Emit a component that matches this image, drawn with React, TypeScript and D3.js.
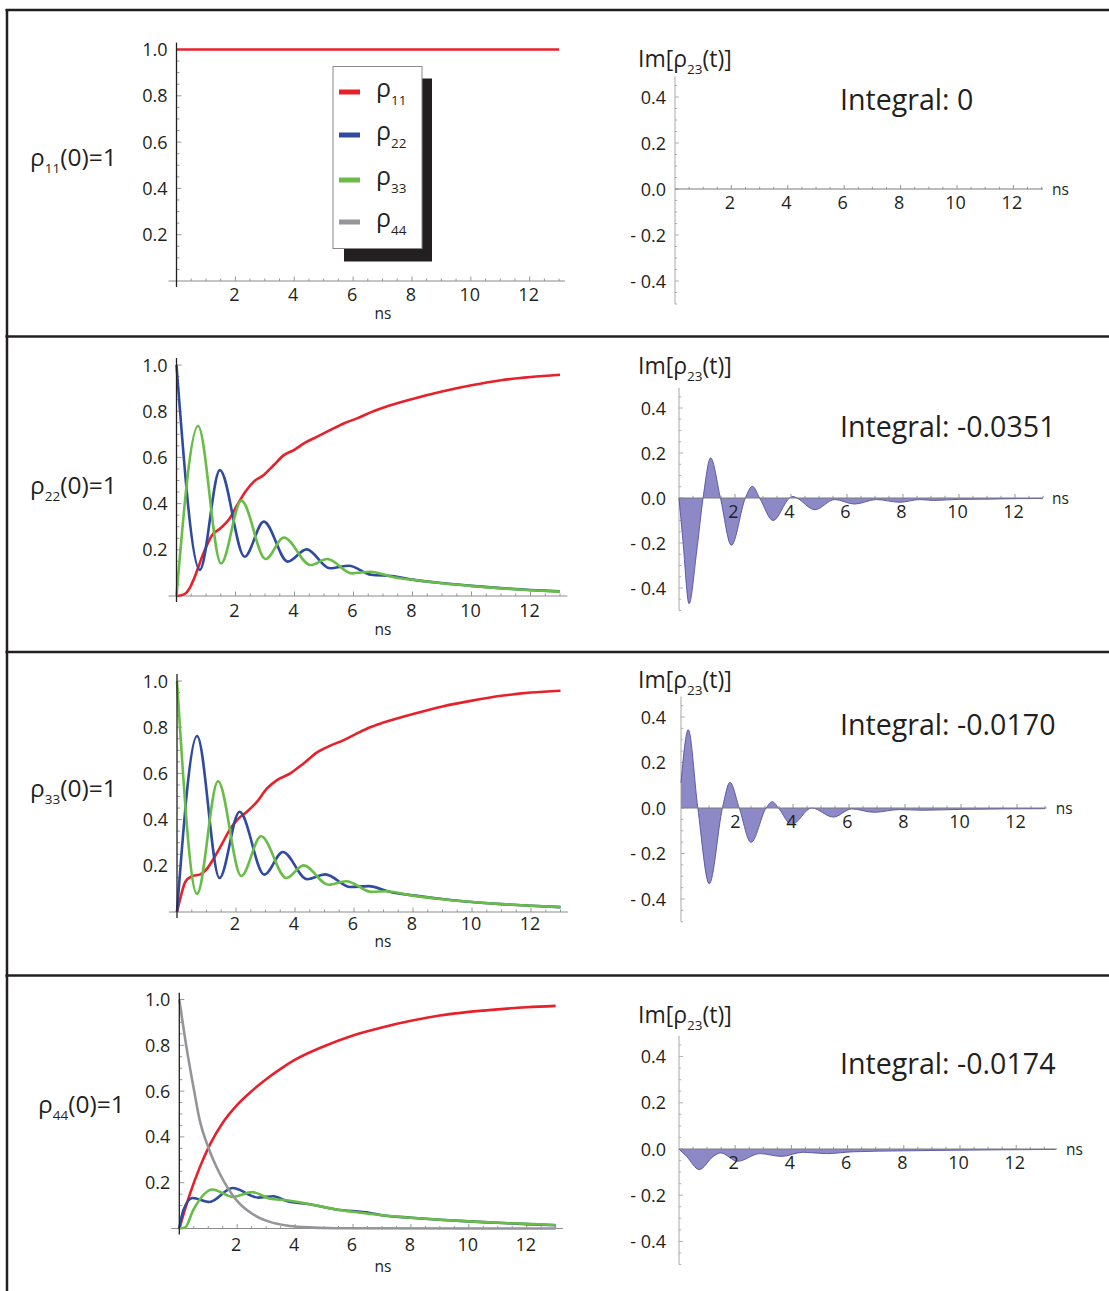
import React from 'react';
import * as d3 from 'd3';

type Pt = [number, number];

// ---------- populations, ρ11(0)=1 ----------
const row1Rho11: Pt[] = [[0, 1], [13, 1]];
const row1Im: Pt[] = [];

// ---------- populations, ρ22(0)=1 ----------
const row2Rho11: Pt[] = [
  [0, 0], [0.25, 0.007], [0.47, 0.04], [0.59, 0.074], [0.93, 0.19], [1.21, 0.264], [1.49, 0.293],
  [1.77, 0.33], [2.06, 0.394], [2.34, 0.452], [2.62, 0.495], [2.96, 0.524], [3.3, 0.567],
  [3.64, 0.61], [3.98, 0.632], [4.32, 0.661], [4.77, 0.69], [5.22, 0.719], [5.67, 0.747],
  [6.12, 0.769], [6.58, 0.795], [7, 0.815], [8, 0.853], [9, 0.885], [10, 0.912], [11, 0.934],
  [12, 0.948], [13, 0.958],
];
const row2Rho22: Pt[] = [
  [0, 1], [0.79, 0.113], [1.47, 0.545], [2.31, 0.17], [2.96, 0.322], [3.77, 0.149], [4.41, 0.202],
  [5.2, 0.12], [5.84, 0.131], [6.6, 0.092], [7.3, 0.086], [8, 0.071], [9, 0.056], [10, 0.044],
  [11, 0.034], [12, 0.026], [13, 0.02],
];
const row2Rho33: Pt[] = [
  [0, 0], [0.73, 0.736], [1.51, 0.141], [2.2, 0.413], [3.02, 0.16], [3.64, 0.253], [4.54, 0.134],
  [5.11, 0.16], [5.95, 0.098], [6.55, 0.105], [7.4, 0.08], [8, 0.07], [9, 0.055], [10, 0.043],
  [11, 0.033], [12, 0.025], [13, 0.019],
];
const row2Im: Pt[] = [
  [0, 0], [0.14, -0.19], [0.36, -0.47], [0.62, -0.25], [0.86, 0], [1.13, 0.178], [1.48, 0],
  [1.87, -0.21], [2.37, 0], [2.62, 0.052], [2.88, 0], [3.36, -0.1], [3.95, 0], [4.07, 0.007],
  [4.21, 0], [4.85, -0.052], [5.56, -0.007], [6.27, -0.027], [7.05, -0.007], [7.88, -0.019],
  [8.6, -0.007], [9.1, -0.011], [10, -0.006], [11, -0.005], [12, -0.003], [13, -0.002],
];

// ---------- populations, ρ33(0)=1 ----------
const row3Rho11: Pt[] = [
  [0, 0], [0.11, 0.058], [0.28, 0.13], [0.51, 0.155], [0.79, 0.163], [1.02, 0.188], [1.24, 0.231],
  [1.53, 0.296], [1.81, 0.361], [2.09, 0.405], [2.37, 0.434], [2.71, 0.477], [3.05, 0.535],
  [3.39, 0.571], [3.84, 0.6], [4.29, 0.643], [4.75, 0.691], [5.2, 0.72], [5.65, 0.744],
  [6.1, 0.773], [6.55, 0.8], [7, 0.82], [8, 0.857], [9, 0.89], [10, 0.915], [11, 0.936],
  [12, 0.95], [13, 0.958],
];
const row3Rho22: Pt[] = [
  [0, 0], [0.68, 0.762], [1.44, 0.147], [2.12, 0.434], [2.96, 0.162], [3.59, 0.26], [4.41, 0.142],
  [5.03, 0.163], [5.88, 0.108], [6.5, 0.112], [7.2, 0.088], [8, 0.072], [9, 0.056], [10, 0.043],
  [11, 0.034], [12, 0.027], [13, 0.021],
];
const row3Rho33: Pt[] = [
  [0, 1], [0.68, 0.079], [1.39, 0.566], [2.18, 0.156], [2.85, 0.328], [3.71, 0.147], [4.29, 0.202],
  [5.14, 0.118], [5.74, 0.133], [6.6, 0.087], [7.1, 0.09], [8, 0.071], [9, 0.055], [10, 0.043],
  [11, 0.034], [12, 0.027], [13, 0.021],
];
const row3Im: Pt[] = [
  [0, 0.11], [0.26, 0.344], [0.6, 0], [1.01, -0.333], [1.48, 0], [1.75, 0.113], [2.08, 0],
  [2.5, -0.151], [3.04, 0], [3.26, 0.028], [3.48, 0], [3.95, -0.073], [4.67, 0], [5.44, -0.04],
  [6.1, -0.004], [6.9, -0.019], [7.8, -0.007], [8.6, -0.01], [10, -0.006], [11.5, -0.004],
  [13, -0.003],
];

// ---------- populations, ρ44(0)=1 ----------
const row4Rho11: Pt[] = [
  [0, 0], [0.37, 0.152], [0.71, 0.268], [1.04, 0.362], [1.5, 0.462], [2, 0.54], [2.5, 0.6],
  [3, 0.652], [3.5, 0.697], [4, 0.737], [5, 0.796], [6, 0.843], [7, 0.878], [8, 0.907],
  [9, 0.93], [10, 0.946], [11, 0.957], [12, 0.966], [13, 0.972],
];
const row4Rho22: Pt[] = [
  [0, 0], [0.14, 0.08], [0.46, 0.133], [1.04, 0.116], [1.84, 0.177], [2.73, 0.135], [3.25, 0.141],
  [3.71, 0.12], [4.51, 0.106], [5.43, 0.083], [6.59, 0.068], [7, 0.058], [8, 0.047], [9, 0.038],
  [10, 0.031], [11, 0.025], [12, 0.019], [13, 0.014],
];
const row4Rho33: Pt[] = [
  [0, 0], [0.2, 0.004], [0.48, 0.08], [1.15, 0.17], [1.84, 0.138], [2.53, 0.159], [3.13, 0.13],
  [3.71, 0.123], [4.51, 0.106], [5.43, 0.083], [6.59, 0.064], [7, 0.058], [8, 0.047], [9, 0.038],
  [10, 0.031], [11, 0.025], [12, 0.02], [13, 0.015],
];
const row4Rho44: Pt[] = [
  [0, 1], [0.25, 0.79], [0.5, 0.61], [0.71, 0.47], [1.0, 0.355], [1.4, 0.239], [1.98, 0.123],
  [2.56, 0.061], [3.13, 0.029], [3.71, 0.013], [4.28, 0.006], [5.4, 0.001], [13, 0],
];
const row4Im: Pt[] = [
  [0, 0], [0.27, -0.032], [0.72, -0.089], [1.22, -0.032], [1.48, -0.017], [2.09, -0.053],
  [2.88, -0.02], [3.65, -0.032], [4.42, -0.014], [5.25, -0.02], [6.2, -0.012], [8, -0.008],
  [10, -0.005], [12, -0.003], [13.4, -0.002],
];

const integralLabels = ['Integral: 0', 'Integral: -0.0351', 'Integral: -0.0170', 'Integral: -0.0174'];
const initialStates = ['11', '22', '33', '44'];
const legendKeys = ['11', '22', '33', '44'];
const xTickValues = [2, 4, 6, 8, 10, 12];
const yTicksLeft = [0.2, 0.4, 0.6, 0.8, 1.0];
const yTicksRight = [-0.4, -0.2, 0, 0.2, 0.4];

const COLORS = {
  rho11: '#e8202a',
  rho22: '#2f4a9e',
  rho33: '#67bd45',
  rho44: '#939598',
};
const legendColors = [COLORS.rho11, COLORS.rho22, COLORS.rho33, COLORS.rho44];
const INK = '#231f20';
const FONT = "'Open Sans', 'DejaVu Sans', sans-serif";

type Series = { data: Pt[]; color: string };

const rowSeries: Series[][] = [
  [{ data: row1Rho11, color: COLORS.rho11 }],
  [
    { data: row2Rho11, color: COLORS.rho11 },
    { data: row2Rho22, color: COLORS.rho22 },
    { data: row2Rho33, color: COLORS.rho33 },
  ],
  [
    { data: row3Rho11, color: COLORS.rho11 },
    { data: row3Rho22, color: COLORS.rho22 },
    { data: row3Rho33, color: COLORS.rho33 },
  ],
  [
    { data: row4Rho11, color: COLORS.rho11 },
    { data: row4Rho22, color: COLORS.rho22 },
    { data: row4Rho33, color: COLORS.rho33 },
    { data: row4Rho44, color: COLORS.rho44 },
  ],
];
const rowIm: Pt[][] = [row1Im, row2Im, row3Im, row4Im];

// pixel frames of each row's two plots
const layouts = [
  {
    left: { x0: 176.5, ppn: 29.43, y0: 281, y1: 49.5, xEnd: 13.2, tickDy: 20, nsDy: 38 },
    right: { x0: 675, ppn: 28.2, zero: 189, ppu: 230, xEnd: 13.05 },
    labelX: 30, labelY: 166, titleY: 67, integralY: 110,
  },
  {
    left: { x0: 176.5, ppn: 29.5, y0: 596, y1: 365, xEnd: 13.25, tickDy: 21, nsDy: 39 },
    right: { x0: 679, ppn: 28, zero: 498, ppu: 225, xEnd: 13.0 },
    labelX: 30, labelY: 494, titleY: 374, integralY: 437,
  },
  {
    left: { x0: 177, ppn: 29.5, y0: 912, y1: 681, xEnd: 13.25, tickDy: 18, nsDy: 35 },
    right: { x0: 681, ppn: 28, zero: 808, ppu: 227.5, xEnd: 13.06 },
    labelX: 30, labelY: 797, titleY: 688, integralY: 735,
  },
  {
    left: { x0: 179.3, ppn: 28.95, y0: 1228.5, y1: 999.5, xEnd: 13.25, tickDy: 22, nsDy: 43 },
    right: { x0: 679, ppn: 28.1, zero: 1149, ppu: 231, xEnd: 13.45 },
    labelX: 38, labelY: 1113, titleY: 1023, integralY: 1074,
  },
];

const minorSteps = (lo: number, hi: number, step: number) => {
  const out: number[] = [];
  for (let v = lo; v <= hi + 1e-9; v += step) out.push(+v.toFixed(3));
  return out;
};

function PopulationPlot({ idx }: { idx: number }) {
  const L = layouts[idx].left;
  const x = d3.scaleLinear().domain([0, 1]).range([L.x0, L.x0 + L.ppn]);
  const y = d3.scaleLinear().domain([0, 1]).range([L.y0, L.y1]);
  const line = d3
    .line<Pt>()
    .x((d) => x(d[0]))
    .y((d) => y(d[1]))
    .curve(d3.curveMonotoneX);

  const xMinor = minorSteps(0.5, L.xEnd, 0.5);
  const yMinor = minorSteps(0.05, 1.0, 0.05);
  return (
    <g>
      {/* x axis */}
      <line x1={L.x0 - 8} x2={x(L.xEnd)} y1={L.y0} y2={L.y0} stroke="#8c8c8c" strokeWidth={1.1} />
      {xMinor.map((t) => {
        const major = Math.abs(t % 2) < 1e-6;
        return (
          <line key={'xt' + t} x1={x(t)} x2={x(t)} y1={L.y0} y2={L.y0 - (major ? 4.5 : 2.5)}
            stroke="#8c8c8c" strokeWidth={0.9} />
        );
      })}
      {yMinor.map((v) => {
        const major = Math.abs((v * 100) % 20) < 1e-6;
        return (
          <line key={'yt' + v} x1={L.x0} x2={L.x0 + (major ? 5 : 3)} y1={y(v)} y2={y(v)}
            stroke="#8c8c8c" strokeWidth={0.9} />
        );
      })}
      {/* series */}
      {rowSeries[idx].map((s, i) => (
        <path key={i} d={line(s.data) || ''} fill="none" stroke={s.color} strokeWidth={2.6}
          strokeLinejoin="round" />
      ))}
      {/* y axis */}
      <line x1={L.x0} x2={L.x0} y1={L.y0 + 6} y2={y(1.03)} stroke={INK} strokeWidth={1.3} />
      {xTickValues.map((t) => (
        <text key={'xl' + t} x={x(t) - 1} y={L.y0 + L.tickDy} textAnchor="middle" fontSize={18}
          fontFamily={FONT} fill={INK}>{t}</text>
      ))}
      {yTicksLeft.map((v) => (
        <text key={'yl' + v} x={L.x0 - 9} y={y(v) + 6.5} textAnchor="end" fontSize={18}
          fontFamily={FONT} fill={INK}>{v.toFixed(1)}</text>
      ))}
      <text x={383} y={L.y0 + L.nsDy} textAnchor="middle" fontSize={15.5} fontFamily={FONT} fill={INK}>ns</text>
    </g>
  );
}

function CoherencePlot({ idx }: { idx: number }) {
  const lay = layouts[idx];
  const R = lay.right;
  const x = d3.scaleLinear().domain([0, 1]).range([R.x0, R.x0 + R.ppn]);
  const y = d3.scaleLinear().domain([0, 1]).range([R.zero, R.zero - R.ppu]);
  const area = d3
    .area<Pt>()
    .x((d) => x(d[0]))
    .y0(R.zero)
    .y1((d) => y(d[1]))
    .curve(d3.curveMonotoneX);
  const line = d3
    .line<Pt>()
    .x((d) => x(d[0]))
    .y((d) => y(d[1]))
    .curve(d3.curveMonotoneX);
  const data = rowIm[idx];
  const xMinor = minorSteps(0.5, R.xEnd, 0.5);
  const yMinor = minorSteps(-0.5, 0.45, 0.05);
  return (
    <g>
      {/* y axis */}
      <line x1={R.x0} x2={R.x0} y1={y(-0.5)} y2={y(0.49)} stroke="#a7a7a7" strokeWidth={1} />
      {yMinor.map((v) => {
        const major = Math.abs(Math.round(v * 100) % 20) < 1e-6;
        return (
          <line key={'yt' + v} x1={R.x0} x2={R.x0 + (major ? 4 : 2.2)} y1={y(v)} y2={y(v)}
            stroke="#a7a7a7" strokeWidth={0.9} />
        );
      })}
      {data.length > 0 && (
        <>
          <path d={area(data) || ''} fill="#8c89c6" stroke="none" />
          <path d={line(data) || ''} fill="none" stroke="#5250a4" strokeWidth={0.9} />
        </>
      )}
      {/* x axis */}
      <line x1={R.x0} x2={x(R.xEnd)} y1={R.zero} y2={R.zero} stroke="#7d7d7d" strokeWidth={1.2} />
      {xMinor.map((t) => {
        const major = Math.abs(t % 2) < 1e-6;
        return (
          <line key={'xt' + t} x1={x(t)} x2={x(t)} y1={R.zero} y2={R.zero - (major ? 4 : 2.2)}
            stroke="#8c8c8c" strokeWidth={0.9} />
        );
      })}
      {xTickValues.map((t) => (
        <text key={'xl' + t} x={x(t) - 1.5} y={R.zero + 20} textAnchor="middle" fontSize={18}
          fontFamily={FONT} fill={INK}>{t}</text>
      ))}
      {yTicksRight.map((v) => (
        <text key={'yl' + v} x={666} y={y(v) + 6.5} textAnchor="end" fontSize={18}
          fontFamily={FONT} fill={INK} style={{ whiteSpace: 'pre' }}>
          {v < 0 ? '- ' + Math.abs(v).toFixed(1) : v.toFixed(1)}
        </text>
      ))}
      <text x={x(R.xEnd) + 9} y={R.zero + 6} fontSize={15.5} fontFamily={FONT} fill={INK}>ns</text>
      {/* title */}
      <text x={638} y={lay.titleY} fontSize={23} fontFamily={FONT} fill={INK}>
        <tspan>Im[ρ</tspan>
        <tspan fontSize={13.5} dy={7}>23</tspan>
        <tspan dy={-7}>(t)]</tspan>
      </text>
      <text x={840} y={lay.integralY} fontSize={28.6} fontFamily={FONT} fill={INK}>
        {integralLabels[idx]}
      </text>
    </g>
  );
}

function Legend() {
  const box = { x: 333, y: 66.5, w: 89, h: 182 };
  const rowsY = [92, 135, 180, 222];
  return (
    <g>
      <rect x={box.x + 11} y={box.y + 12} width={box.w - 1} height={box.h + 1} fill={INK} />
      <rect x={box.x} y={box.y} width={box.w} height={box.h} fill="#ffffff" stroke="#8a8a8a" strokeWidth={1} />
      {legendKeys.map((k, i) => (
        <g key={k}>
          <line x1={339} x2={360} y1={rowsY[i]} y2={rowsY[i]} stroke={legendColors[i]} strokeWidth={5} />
          <text x={376} y={rowsY[i] + 5} fontSize={25} fontFamily={FONT} fill={INK}>
            <tspan>ρ</tspan>
            <tspan fontSize={13.5} dy={8}>{k}</tspan>
          </text>
        </g>
      ))}
    </g>
  );
}

export default function App() {
  const W = 1109;
  const H = 1291;
  const separators = [336.5, 652, 975.5];
  return (
    <svg width={W} height={H} viewBox={`0 0 ${W} ${H}`}
      style={{ position: 'absolute', left: 0, top: 0, display: 'block', background: '#ffffff' }}>
      <rect x={0} y={0} width={W} height={H} fill="#ffffff" />
      {/* frame */}
      <line x1={5.5} x2={W} y1={10} y2={10} stroke={INK} strokeWidth={2.5} />
      <line x1={7} x2={7} y1={9} y2={H} stroke={INK} strokeWidth={2.5} />
      {separators.map((s) => (
        <line key={s} x1={5.5} x2={W} y1={s} y2={s} stroke={INK} strokeWidth={2.5} />
      ))}
      {layouts.map((lay, i) => (
        <g key={i}>
          <text x={lay.labelX} y={lay.labelY} fontSize={24.5} fontFamily={FONT} fill={INK}>
            <tspan>ρ</tspan>
            <tspan fontSize={13.5} dy={7}>{initialStates[i]}</tspan>
            <tspan dy={-7}>(0)=1</tspan>
          </text>
          <PopulationPlot idx={i} />
          <CoherencePlot idx={i} />
        </g>
      ))}
      <Legend />
    </svg>
  );
}
